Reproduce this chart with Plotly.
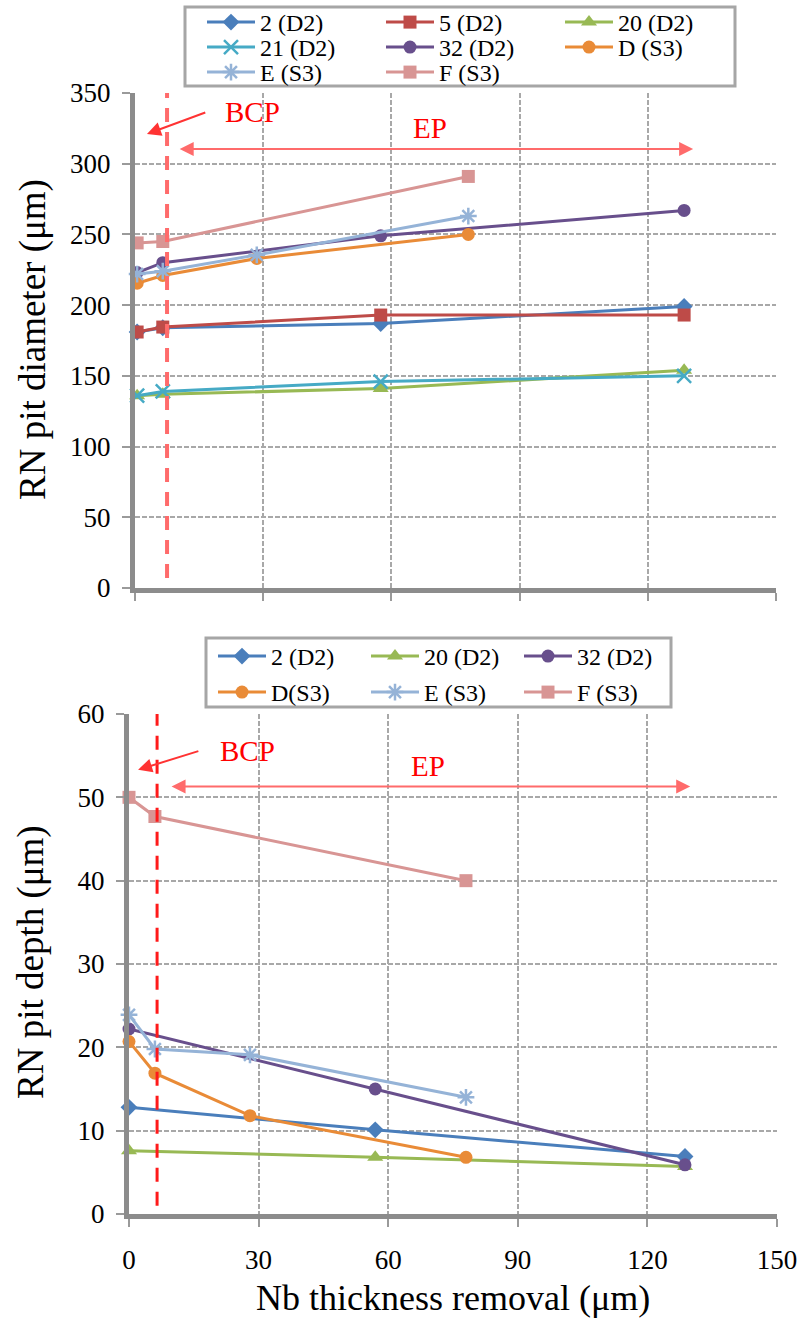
import plotly.graph_objects as go

W, H = 804, 1318

# ---------------- data: top chart (RN pit diameter) ----------------
top_x_D2 = [0.5, 6.5, 57.5, 128.5]
top_y_2 = [181, 184, 187, 199]
top_y_5 = [181, 184.5, 193, 193]
top_y_20 = [136, 137, 141, 154]
top_y_21 = [136, 139, 146, 150]
top_y_32 = [223, 230, 249, 267]
top_x_S3 = [0.5, 6.5, 28.5, 78]
top_y_D = [215.5, 221, 233, 250]
top_y_E = [222, 224, 235.5, 263]
top_x_F = [0.5, 6.5, 78]
top_y_F = [244, 245, 291]

# ---------------- data: bottom chart (RN pit depth) ----------------
bot_x_D2 = [0, 57, 128.7]
bot_y_2 = [12.8, 10.1, 6.9]
bot_y_20 = [7.6, 6.8, 5.7]
bot_y_32 = [22.2, 15.0, 5.9]
bot_x_S3 = [0, 6, 28, 78]
bot_y_D = [20.7, 16.9, 11.8, 6.8]
bot_y_E = [23.9, 19.8, 19.1, 14.0]
bot_x_F = [0, 6, 78]
bot_y_F = [50, 47.7, 40]

x_ticks = [0, 30, 60, 90, 120, 150]
top_y_ticks = [0, 50, 100, 150, 200, 250, 300, 350]
bot_y_ticks = [0, 10, 20, 30, 40, 50, 60]

# styles
C = {
    "2": "#4A7EBB", "5": "#BE4B48", "20": "#98B954", "21": "#46AAC5",
    "32": "#684F8C", "D": "#E98B37", "E": "#95B3D7", "F": "#D89594",
}
SYM = {
    "2": "diamond", "5": "square", "20": "triangle-up", "21": "x-thin-open",
    "32": "circle", "D": "circle", "E": "asterisk-open", "F": "square",
}
SERIF = "Liberation Serif"


def px_x(px):
    return px / W


def px_y(px):
    return 1 - px / H


fig = go.Figure()


def add(key, name, xs, ys, axis, legend):
    xa, ya = ("x", "y") if axis == 1 else ("x2", "y2")
    sym = SYM[key]
    size = 14 if sym in ("x-thin-open", "asterisk-open", "triangle-up") else 13
    mline = dict(width=2.5, color=C[key]) if sym.endswith("open") else dict(width=0)
    fig.add_trace(go.Scatter(
        x=xs, y=ys, name=name, mode="lines+markers", xaxis=xa, yaxis=ya,
        line=dict(color=C[key], width=3),
        marker=dict(symbol=sym, size=size, color=C[key], line=mline),
        legend=legend, cliponaxis=False,
    ))


# top chart traces
add("2", "2 (D2)", top_x_D2, top_y_2, 1, "legend")
add("5", "5 (D2)", top_x_D2, top_y_5, 1, "legend")
add("20", "20 (D2)", top_x_D2, top_y_20, 1, "legend")
add("21", "21 (D2)", top_x_D2, top_y_21, 1, "legend2")
add("32", "32 (D2)", top_x_D2, top_y_32, 1, "legend2")
add("D", "D (S3)", top_x_S3, top_y_D, 1, "legend2")
add("E", "E (S3)", top_x_S3, top_y_E, 1, "legend3")
add("F", "F (S3)", top_x_F, top_y_F, 1, "legend3")

# bottom chart traces
add("2", "2 (D2)", bot_x_D2, bot_y_2, 2, "legend4")
add("20", "20 (D2)", bot_x_D2, bot_y_20, 2, "legend4")
add("32", "32 (D2)", bot_x_D2, bot_y_32, 2, "legend4")
add("D", "D(S3)", bot_x_S3, bot_y_D, 2, "legend5")
add("E", "E (S3)", bot_x_S3, bot_y_E, 2, "legend5")
add("F", "F (S3)", bot_x_F, bot_y_F, 2, "legend5")

grid = dict(
    showline=True, linecolor="#8C8C8C", linewidth=5,
    showgrid=True, gridcolor="#A8A8A8", gridwidth=2, griddash="5px,2px",
    ticks="outside", ticklen=8, tickwidth=2, tickcolor="#9A9A9A",
    zeroline=False, automargin=False,
    tickfont=dict(family=SERIF, size=27, color="black"),
)

top_dom_x = [px_x(135), px_x(776)]
bot_dom_x = [px_x(129), px_x(777)]

fig.update_layout(
    width=W, height=H, template="none",
    margin=dict(l=0, r=0, t=0, b=0),
    paper_bgcolor="white", plot_bgcolor="white",
    showlegend=True,
    xaxis=dict(grid, domain=top_dom_x, range=[0, 150], tickvals=x_ticks,
               showticklabels=False, anchor="y"),
    yaxis=dict(grid, domain=[px_y(588), px_y(93)], range=[0, 350],
               tickvals=top_y_ticks, anchor="x", ticklabelstandoff=6),
    xaxis2=dict(grid, domain=bot_dom_x, range=[0, 150], tickvals=x_ticks,
                anchor="y2", ticklabelstandoff=10),
    yaxis2=dict(grid, domain=[px_y(1214), px_y(714)], range=[0, 60],
                tickvals=bot_y_ticks, anchor="x2", ticklabelstandoff=6),
)

leg_common = dict(
    orientation="h", xanchor="left", yanchor="top", bgcolor="rgba(0,0,0,0)",
    borderwidth=0, font=dict(family=SERIF, size=24, color="black"),
    itemwidth=48, tracegroupgap=0, itemclick=False, itemdoubleclick=False,
)
fig.update_layout(
    legend=dict(leg_common, x=px_x(202), y=px_y(0), entrywidth=116),
    legend2=dict(leg_common, x=px_x(202), y=px_y(25), entrywidth=116),
    legend3=dict(leg_common, x=px_x(202), y=px_y(50), entrywidth=116),
    legend4=dict(leg_common, x=px_x(213), y=px_y(634), entrywidth=90),
    legend5=dict(leg_common, x=px_x(213), y=px_y(670), entrywidth=90),
)

# legend boxes
fig.add_shape(type="rect", xref="paper", yref="paper",
              x0=px_x(185), x1=px_x(735), y0=px_y(86), y1=px_y(7),
              line=dict(color="#A6A6A6", width=3), layer="below")
fig.add_shape(type="rect", xref="paper", yref="paper",
              x0=px_x(206), x1=px_x(671), y0=px_y(707), y1=px_y(638),
              line=dict(color="#A6A6A6", width=3), layer="below")

# BCP boundary (dashed red lines)
top_bcp_x, bot_bcp_x = 7.5, 6.5
fig.add_shape(type="line", xref="x", yref="y", x0=top_bcp_x, x1=top_bcp_x, y0=7, y1=350,
              line=dict(color="#FF6B6B", width=4, dash="14px,10px"))
fig.add_shape(type="line", xref="x2", yref="y2", x0=bot_bcp_x, x1=bot_bcp_x, y0=1, y1=60,
              line=dict(color="#FF1A1A", width=3, dash="14px,10px"))

RED = "#FF3333"
# top annotations
fig.add_annotation(xref="x", yref="y", axref="x", ayref="y", x=2.8, y=321, ax=16.8, ay=336.6,
                   text="", showarrow=True, arrowhead=2, arrowsize=1.4, arrowwidth=2,
                   arrowcolor=RED, standoff=0)
fig.add_annotation(xref="x", yref="y", axref="x", ayref="y", x=130.6, y=310.4, ax=10.1, ay=310.4,
                   text="", showarrow=True, arrowhead=2, arrowsize=1.4, arrowwidth=2,
                   arrowside="end+start", arrowcolor="#FF6B6B", standoff=0, startstandoff=0)
fig.add_annotation(xref="x", yref="y", x=27.6, y=336.6, text="BCP", showarrow=False,
                   font=dict(family=SERIF, size=29, color="#FF0000"))
fig.add_annotation(xref="x", yref="y", x=69, y=325, text="EP", showarrow=False,
                   font=dict(family=SERIF, size=29, color="#FF0000"))
# bottom annotations
fig.add_annotation(xref="x2", yref="y2", axref="x2", ayref="y2", x=2.1, y=53.3, ax=16.4, ay=55.6,
                   text="", showarrow=True, arrowhead=2, arrowsize=1.4, arrowwidth=2,
                   arrowcolor=RED, standoff=0)
fig.add_annotation(xref="x2", yref="y2", axref="x2", ayref="y2", x=129.9, y=51.3, ax=9.5, ay=51.3,
                   text="", showarrow=True, arrowhead=2, arrowsize=1.4, arrowwidth=2,
                   arrowside="end+start", arrowcolor="#FF6B6B", standoff=0, startstandoff=0)
fig.add_annotation(xref="x2", yref="y2", x=27.5, y=55.5, text="BCP", showarrow=False,
                   font=dict(family=SERIF, size=29, color="#FF0000"))
fig.add_annotation(xref="x2", yref="y2", x=69.1, y=53.8, text="EP", showarrow=False,
                   font=dict(family=SERIF, size=29, color="#FF0000"))

# axis titles
fig.add_annotation(xref="paper", yref="paper", x=px_x(33), y=px_y(340), text="RN pit diameter (μm)",
                   xanchor="center", yanchor="middle",
                   textangle=-90, showarrow=False, font=dict(family=SERIF, size=37, color="black"))
fig.add_annotation(xref="paper", yref="paper", x=px_x(31), y=px_y(962), text="RN pit depth (μm)",
                   xanchor="center", yanchor="middle",
                   textangle=-90, showarrow=False, font=dict(family=SERIF, size=37, color="black"))
fig.add_annotation(xref="paper", yref="paper", x=px_x(453), y=px_y(1298),
                   xanchor="center", yanchor="middle",
                   text="Nb thickness removal (μm)", showarrow=False,
                   font=dict(family=SERIF, size=36, color="black"))

fig.write_html("out.html", config={"displayModeBar": False, "staticPlot": True},
               post_script="document.body.style.margin='0px';")
